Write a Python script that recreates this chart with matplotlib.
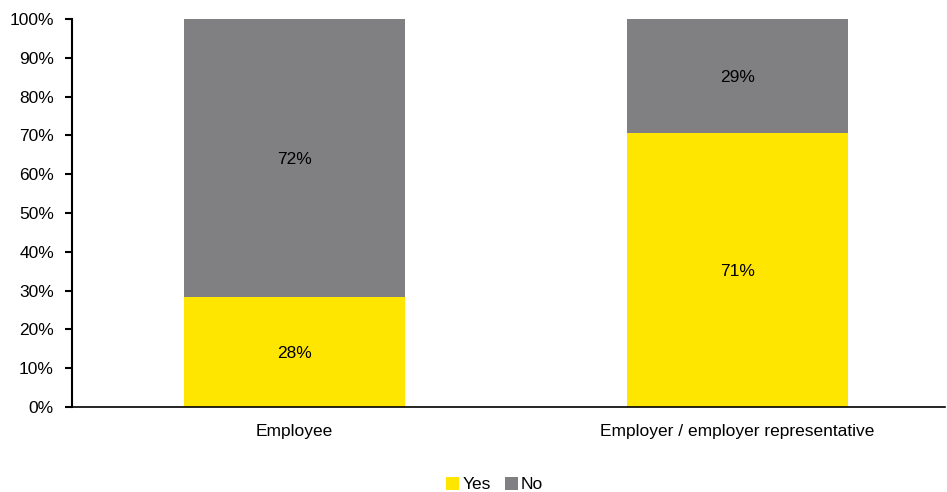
import matplotlib
matplotlib.use("Agg")
import matplotlib.pyplot as plt
import numpy as np

plt.rcParams['font.family'] = ['Liberation Sans', 'DejaVu Sans']

categories = ["Employee", "Employer / employer representative"]
yes_vals = [28.4, 70.6]
no_vals = [71.6, 29.4]
yticks = [0, 10, 20, 30, 40, 50, 60, 70, 80, 90, 100]

yellow = "#FFE600"
grey = "#808083"
fs = 12.5

fig = plt.figure(figsize=(9.47, 4.92), dpi=100)
ax = fig.add_axes([0.076, 0.1728, 0.922, 0.7886])

x = np.arange(len(categories))
b1 = ax.bar(x, yes_vals, width=0.5, color=yellow, label="Yes")
b2 = ax.bar(x, no_vals, width=0.5, bottom=yes_vals, color=grey, label="No")

for i in range(len(categories)):
    ax.text(x[i], yes_vals[i] / 2 - 0.5, "%d%%" % round(yes_vals[i]),
            ha="center", va="center", fontsize=fs)
    ax.text(x[i], yes_vals[i] + no_vals[i] / 2 - 0.5, "%d%%" % round(no_vals[i]),
            ha="center", va="center", fontsize=fs)

ax.set_xlim(-0.502, 1.468)
ax.set_ylim(0, 100)
ax.set_yticks(yticks)
ax.set_yticklabels(["%d%%" % t for t in yticks], fontsize=fs)
ax.set_xticks(x)
ax.set_xticklabels(categories, fontsize=fs)
ax.tick_params(axis="x", length=0, pad=12)
ax.tick_params(axis="y", direction="out", length=5, width=1.5, pad=8)

for s in ["top", "right"]:
    ax.spines[s].set_visible(False)
ax.spines["left"].set_linewidth(1.5)
ax.spines["bottom"].set_linewidth(1.2)

ax.legend(loc="upper center", bbox_to_anchor=(0.484, -0.14), ncol=2, frameon=False,
          fontsize=fs, handlelength=0.75, handleheight=0.75, handletextpad=0.2,
          columnspacing=0.8)

fig.savefig("out.png", dpi=100)
